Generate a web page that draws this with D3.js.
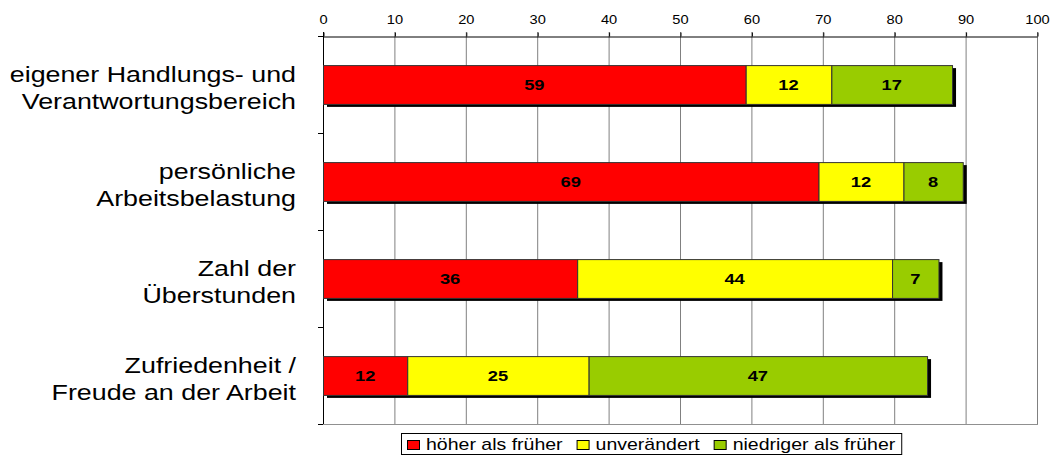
<!DOCTYPE html>
<html>
<head>
<meta charset="utf-8">
<script src="https://cdn.jsdelivr.net/npm/d3@7"></script>
<style>
  body { margin: 0; background: #fff; }
  svg { display: block; font-family: "Liberation Sans", Arial, sans-serif; }
</style>
</head>
<body>
<svg id="chart" width="1052" height="455"></svg>
<script>
// categories (two lines each) and the three series, in percent
var categories = [
  "eigener Handlungs- und|Verantwortungsbereich",
  "persönliche|Arbeitsbelastung",
  "Zahl der|Überstunden",
  "Zufriedenheit /|Freude an der Arbeit"
];
var hoeher = [59.2, 69.4, 35.6, 11.8];
var unveraendert = [12.0, 11.9, 44.1, 25.4];
var niedriger = [16.9, 8.3, 6.5, 47.4];
var seriesNames = ["höher als früher", "unverändert", "niedriger als früher"];
var seriesColors = ["#ff0000", "#ffff00", "#99cc00"];
var xTicks = [0, 10, 20, 30, 40, 50, 60, 70, 80, 90, 100];

var svg = d3.select('#chart');
var sx = 1.22; // the original text is drawn a bit wide

var margin = { top: 36, bottom: 31, left: 323, right: 14 };
var width = 1052, height = 455;

// build rows for d3.stack
var keys = ["hoeher", "unveraendert", "niedriger"];
var rows = categories.map(function(c, i) {
  return { cat: i, hoeher: hoeher[i], unveraendert: unveraendert[i], niedriger: niedriger[i] };
});
var stacked = d3.stack().keys(keys)(rows);

var xScale = d3.scaleLinear()
  .domain([0, 100])
  .range([margin.left, width - margin.right - 1]);

var yScale = d3.scaleBand()
  .domain(d3.range(categories.length))
  .range([margin.top, height - margin.bottom])
  .paddingInner(0.6)
  .paddingOuter(0.3);

var plotTop = margin.top, plotBottom = height - margin.bottom;

// grid lines
svg.append('g')
  .selectAll('line')
  .data(xTicks.slice(1))
  .enter()
  .append('line')
  .attr('x1', function(d) { return xScale(d) + 0.5; })
  .attr('x2', function(d) { return xScale(d) + 0.5; })
  .attr('y1', plotTop - 4)
  .attr('y2', plotBottom)
  .attr('stroke', '#808080');

// bottom border
svg.append('line')
  .attr('x1', xScale(0) - 5).attr('x2', xScale(100) + 1)
  .attr('y1', plotBottom + 0.5).attr('y2', plotBottom + 0.5)
  .attr('stroke', '#909090');

// top axis
var xAxis = svg.append('g')
  .attr('transform', 'translate(0,' + (plotTop + 0.5) + ')')
  .call(d3.axisTop(xScale).tickValues(xTicks).tickSize(4).tickSizeOuter(0).tickPadding(9));
xAxis.select('.domain').attr('stroke', '#000');
xAxis.selectAll('.tick line').attr('stroke', '#000').attr('transform', 'translate(0.5,0)');
xAxis.selectAll('.tick text')
  .attr('font-size', 12)
  .attr('fill', '#000')
  .attr('font-family', '"Liberation Sans", Arial, sans-serif')
  .attr('transform', 'scale(' + sx + ',1)');

// left axis line + boundary ticks
var bounds = d3.range(categories.length + 1).map(function(i) {
  return plotTop + i * (plotBottom - plotTop) / categories.length;
});
svg.append('line')
  .attr('x1', xScale(0) + 0.5).attr('x2', xScale(0) + 0.5)
  .attr('y1', plotTop - 4).attr('y2', plotBottom)
  .attr('stroke', '#000');
svg.append('g')
  .selectAll('line')
  .data(bounds)
  .enter()
  .append('line')
  .attr('x1', xScale(0) - 5).attr('x2', xScale(0))
  .attr('y1', function(d) { return Math.round(d) + 0.5; })
  .attr('y2', function(d) { return Math.round(d) + 0.5; })
  .attr('stroke', '#000');

// shadows
svg.append('g')
  .selectAll('rect')
  .data(rows)
  .enter()
  .append('rect')
  .attr('x', xScale(0) + 4)
  .attr('y', function(d) { return yScale(d.cat) + 3; })
  .attr('width', function(d) { return xScale(d.hoeher + d.unveraendert + d.niedriger) - xScale(0); })
  .attr('height', yScale.bandwidth())
  .attr('fill', '#000');

// bars
var layer = svg.selectAll('.layer')
  .data(stacked)
  .enter()
  .append('g')
  .attr('class', 'layer')
  .attr('fill', function(d, i) { return seriesColors[i]; });

layer.selectAll('rect')
  .data(function(d) { return d; })
  .enter()
  .append('rect')
  .attr('x', function(d) { return xScale(d[0]) + 0.5; })
  .attr('y', function(d) { return yScale(d.data.cat) + 0.5; })
  .attr('width', function(d) { return xScale(d[1]) - xScale(d[0]); })
  .attr('height', yScale.bandwidth())
  .attr('stroke', '#333')
  .attr('stroke-width', 1);

// value labels
layer.selectAll('g')
  .data(function(d) { return d; })
  .enter()
  .append('g')
  .attr('transform', function(d) {
    return 'translate(' + ((xScale(d[0]) + xScale(d[1])) / 2) + ',' +
      (yScale(d.data.cat) + yScale.bandwidth() / 2) + ') scale(' + sx + ',1)';
  })
  .append('text')
  .attr('text-anchor', 'middle')
  .attr('dy', '0.36em')
  .attr('font-size', 15)
  .attr('font-weight', 'bold')
  .attr('fill', '#000')
  .text(function(d) { return Math.round(d[1] - d[0]); });

// category labels
var catG = svg.append('g')
  .selectAll('g')
  .data(categories)
  .enter()
  .append('g')
  .attr('transform', function(d, i) {
    return 'translate(296,' + (yScale(i) + yScale.bandwidth() / 2) + ') scale(' + sx + ',1)';
  });
catG.selectAll('text')
  .data(function(d) { return d.split('|'); })
  .enter()
  .append('text')
  .attr('text-anchor', 'end')
  .attr('font-size', 22)
  .attr('fill', '#000')
  .attr('y', function(d, j) { return j === 0 ? -3 : 25; })
  .text(function(d) { return d; });

// legend
var legend = svg.append('g').attr('transform', 'translate(401,433)');
var legendBox = legend.append('rect')
  .attr('x', 0.5).attr('y', 0.5)
  .attr('height', 21)
  .attr('fill', '#fff')
  .attr('stroke', '#000');
var lx = 6;
seriesNames.forEach(function(name, i) {
  legend.append('rect')
    .attr('x', lx + 0.5).attr('y', 7.5)
    .attr('width', 12).attr('height', 9)
    .attr('fill', seriesColors[i])
    .attr('stroke', '#000');
  var t = legend.append('g')
    .attr('transform', 'translate(' + (lx + 19) + ',17) scale(' + sx + ',1)')
    .append('text')
    .attr('font-size', 16)
    .attr('fill', '#000')
    .text(name);
  lx += 19 + t.node().getComputedTextLength() * sx + 14;
});
legendBox.attr('width', lx - 8);
</script>
</body>
</html>
